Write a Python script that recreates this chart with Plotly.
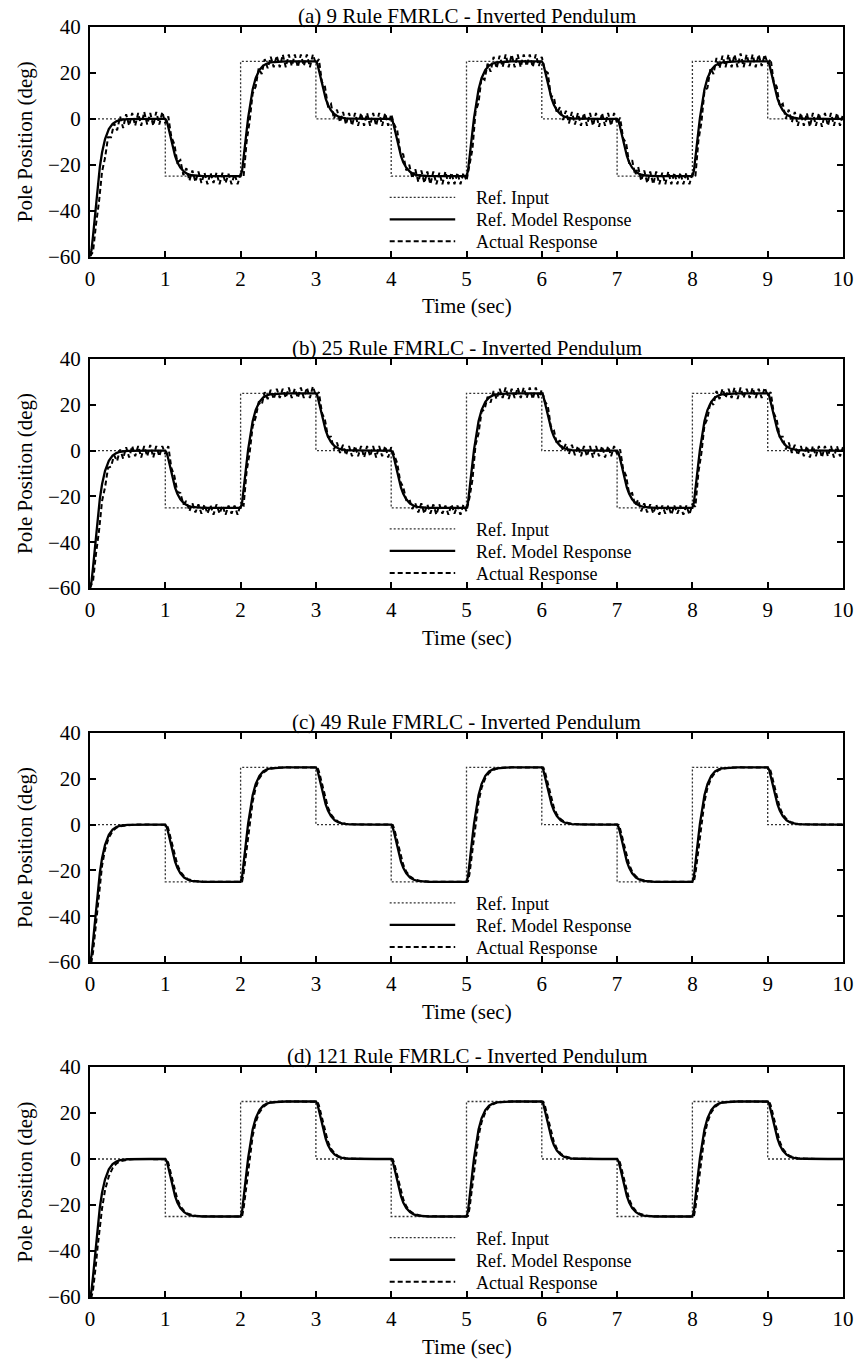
import plotly.graph_objects as go

# ---------------------------------------------------------------- data
PANEL_TITLES = [
    "(a) 9 Rule FMRLC - Inverted Pendulum",
    "(b) 25 Rule FMRLC - Inverted Pendulum",
    "(c) 49 Rule FMRLC - Inverted Pendulum",
    "(d) 121 Rule FMRLC - Inverted Pendulum",
]
X_TICKS = [0, 1, 2, 3, 4, 5, 6, 7, 8, 9, 10]
Y_TICKS = [-60, -40, -20, 0, 20, 40]
LEGEND_NAMES = ["Ref. Input", "Ref. Model Response", "Actual Response"]

# reference input (square wave, held between switching instants)
ref_t = [0, 1, 2, 3, 4, 5, 6, 7, 8, 9, 10]
ref_u = [0, -25, 25, 0, -25, 25, 0, -25, 25, 0, 0]

# sample instants inside each one-second interval for the smooth curves
SEG_OFFSETS = [0, 0.02, 0.04, 0.06, 0.08, 0.10, 0.13, 0.16, 0.20,
               0.25, 0.30, 0.35, 0.40, 0.50, 0.60, 0.80]
model_t = [round(k + o, 2) for k in range(10) for o in SEG_OFFSETS] + [10.0]

# reference model response (same in all four runs)
ref_model = [
    -60, -57.2, -51.1, -43.7, -36.4, -29.6, -21.2, -14.7, -8.8, -4.5, -2.2, -1.1, -0.5, -0.1, 0, 0,
    0, -1.1, -3.7, -6.8, -9.9, -12.7, -16.2, -18.9, -21.3, -23.1, -24.1, -24.6, -24.8, -25, -25, -25,
    -25, -22.7, -17.6, -11.4, -5.3, 0.4, 7.4, 12.8, 17.7, 21.3, 23.2, 24.1, 24.6, 24.9, 25, 25,
    25, 23.9, 21.3, 18.2, 15.2, 12.3, 8.8, 6.1, 3.7, 1.9, 0.9, 0.5, 0.2, 0.1, 0, 0,
    0, -1.1, -3.7, -6.8, -9.9, -12.7, -16.2, -18.9, -21.3, -23.1, -24.1, -24.6, -24.8, -25, -25, -25,
    -25, -22.7, -17.6, -11.4, -5.3, 0.4, 7.4, 12.8, 17.7, 21.3, 23.2, 24.1, 24.6, 24.9, 25, 25,
    25, 23.9, 21.3, 18.2, 15.2, 12.3, 8.8, 6.1, 3.7, 1.9, 0.9, 0.5, 0.2, 0.1, 0, 0,
    0, -1.1, -3.7, -6.8, -9.9, -12.7, -16.2, -18.9, -21.3, -23.1, -24.1, -24.6, -24.8, -25, -25, -25,
    -25, -22.7, -17.6, -11.4, -5.3, 0.4, 7.4, 12.8, 17.7, 21.3, 23.2, 24.1, 24.6, 24.9, 25, 25,
    25, 23.9, 21.3, 18.2, 15.2, 12.3, 8.8, 6.1, 3.7, 1.9, 0.9, 0.5, 0.2, 0.1, 0, 0,
    0,
]

# actual pendulum response, 9 and 25 rule controllers (sampled every 0.04 s)
act_t = [round(i * 0.04, 2) for i in range(251)]

actual_9 = [
    -60, -58, -46, -36, -23, -17, -8, -8, -2, -5, 1, -4, 2, -3, 2.5, -3, 2.5, -3, 3, -2.5, 2.5, -3, 3, -2.5, 3,
    -2, 1, -8, -11, -19, -18, -24.5, -21.5, -27, -22.5, -27.5, -23, -28, -23.5, -28.5, -23.5, -28, -23.5, -28.5, -23.5, -28, -24, -28.5, -24, -28.5,
    -24, -25, -10, -1, 11, 14, 22, 19.5, 26, 22, 27, 22.5, 27.5, 22.5, 28, 22.5, 28, 23, 28, 22.5, 28, 23, 28, 22.5, 28,
    24, 26, 16, 14, 5.5, 6.5, 0, 4, -1.5, 3, -2.5, 2.5, -3, 2.5, -3, 2.5, -3, 2.5, -3, 2.5, -3, 2.5, -3, 2.5, -3,
    2, -2.5, -5, -14.5, -15.5, -22.5, -20, -26, -22, -27.5, -22.5, -28, -23, -28.5, -23, -28.5, -23.5, -28.5, -23, -28.5, -23.5, -28.5, -23.5, -28.5, -23.5,
    -27, -20, -13, 3, 7, 18, 17, 24, 20.5, 27, 22, 27.5, 22.5, 28, 22.5, 28, 22.5, 28, 22.5, 28, 23, 28, 22.5, 28, 23,
    27, 21, 20, 10, 9.5, 2.5, 5, -0.5, 3.5, -2, 3, -2.5, 2.5, -3, 2.5, -3, 2.5, -3, 2.5, -3.5, 2.5, -3, 2.5, -3, 2.5,
    -2, 0.5, -8.5, -10.5, -19.5, -18, -24.5, -21, -27, -22.5, -28, -23, -28.5, -23, -28.5, -23.5, -28.5, -23, -28.5, -23.5, -28.5, -23.5, -28.5, -23.5, -28.5,
    -24, -25, -9.5, -1.5, 12, 13.5, 22, 19.5, 26.5, 22, 27.5, 22.5, 28, 22.5, 28, 22.5, 28.5, 22.5, 28, 23, 28, 22.5, 28, 23, 28,
    24, 26, 16, 14, 5.5, 6.5, 0, 4, -1.5, 3, -3, 2.5, -3, 2.5, -3.5, 2.5, -3, 2.5, -3.5, 2.5, -3, 2.5, -3, 2.5, -3,
    2,
]

actual_25 = [
    -60, -57, -45, -35, -22, -16, -7.5, -7, -2, -4.5, 0.5, -3.5, 1.5, -3, 2, -2.5, 2, -3, 2, -2.5, 2.5, -3, 2, -2.5, 2,
    -1.5, 2, -7.5, -11, -18, -18.5, -23.5, -22, -26.5, -23, -27, -23.5, -27.5, -23.5, -27.5, -24, -28, -23.5, -27.5, -24, -28, -24, -27.5, -24, -28,
    -23.5, -24, -9, -1, 10.5, 14.5, 21, 20, 25.5, 22.5, 26.5, 22.5, 27, 23, 27, 23, 27.5, 23, 27, 23, 27.5, 23, 27.5, 23, 28,
    24, 25.5, 16.5, 13.5, 6, 6, 0.5, 3.5, -1, 2.5, -2, 2, -2.5, 2, -2.5, 2, -3, 2, -2.5, 2, -3, 2, -2.5, 2, -3,
    1.5, -2, -5.5, -13.5, -16, -21.5, -21, -25.5, -23, -27, -23, -27.5, -23.5, -27.5, -23.5, -28, -23.5, -27.5, -24, -28, -23.5, -27.5, -24, -28, -23.5,
    -26.5, -20.5, -12.5, 2.5, 7.5, 17, 18, 23.5, 21, 26, 22.5, 27, 23, 27.5, 22.5, 27, 23, 27.5, 23, 27.5, 23, 27.5, 22.5, 27.5, 23,
    26.5, 21.5, 19.5, 10.5, 9, 3, 4.5, 0, 3, -1.5, 2.5, -2, 2, -2.5, 2, -2.5, 2, -3, 2, -2.5, 2, -3, 2, -2.5, 2,
    -1.5, 0.5, -8, -11, -19, -18.5, -24, -21.5, -26.5, -23, -27, -23.5, -27.5, -23.5, -28, -24, -27.5, -24, -28, -24, -27.5, -24, -28, -24, -28,
    -23.5, -24.5, -9.5, -1, 11, 14, 21.5, 20, 26, 22.5, 27, 23, 27, 23, 27.5, 22.5, 27.5, 23, 27, 23, 27.5, 23, 27, 23, 27.5,
    24, 25.5, 16.5, 13.5, 6, 6, 0.5, 3.5, -1, 2.5, -2, 2, -2.5, 2, -3, 2, -2.5, 2, -3, 2, -2.5, 2, -3, 2, -2.5,
    1.5,
]

# actual pendulum response, 49 and 121 rule controllers (on model_t instants)
actual_49 = [
    -60, -59.8, -55.8, -49.2, -42, -34.8, -25.2, -18, -10.8, -5.7, -2.9, -1.4, -0.7, -0.2, 0, 0,
    0, -0.1, -1.8, -4.5, -7.5, -10.5, -14.5, -17.5, -20.5, -22.6, -23.8, -24.4, -24.7, -24.9, -25, -25,
    -25, -24.8, -21.5, -16, -10, -4, 4, 10, 16, 20.3, 22.6, 23.8, 24.4, 24.9, 25, 25,
    25, 24.9, 23.3, 20.5, 17.5, 14.5, 10.5, 7.5, 4.5, 2.4, 1.2, 0.6, 0.3, 0.1, 0, 0,
    0, -0.1, -1.8, -4.5, -7.5, -10.5, -14.5, -17.5, -20.5, -22.6, -23.8, -24.4, -24.7, -24.9, -25, -25,
    -25, -24.8, -21.5, -16, -10, -4, 4, 10, 16, 20.3, 22.6, 23.8, 24.4, 24.9, 25, 25,
    25, 24.9, 23.3, 20.5, 17.5, 14.5, 10.5, 7.5, 4.5, 2.4, 1.2, 0.6, 0.3, 0.1, 0, 0,
    0, -0.1, -1.8, -4.5, -7.5, -10.5, -14.5, -17.5, -20.5, -22.6, -23.8, -24.4, -24.7, -24.9, -25, -25,
    -25, -24.8, -21.5, -16, -10, -4, 4, 10, 16, 20.3, 22.6, 23.8, 24.4, 24.9, 25, 25,
    25, 24.9, 23.3, 20.5, 17.5, 14.5, 10.5, 7.5, 4.5, 2.4, 1.2, 0.6, 0.3, 0.1, 0, 0,
    0,
]

actual_121 = [
    -60, -59.9, -57, -52, -45.5, -38.5, -29, -21.5, -13.5, -7.5, -4, -2, -1, -0.3, 0, 0,
    0, -0.1, -1.8, -4.5, -7.5, -10.5, -14.5, -17.5, -20.5, -22.6, -23.8, -24.4, -24.7, -24.9, -25, -25,
    -25, -24.8, -21.5, -16, -10, -4, 4, 10, 16, 20.3, 22.6, 23.8, 24.4, 24.9, 25, 25,
    25, 24.9, 23.3, 20.5, 17.5, 14.5, 10.5, 7.5, 4.5, 2.4, 1.2, 0.6, 0.3, 0.1, 0, 0,
    0, -0.1, -1.8, -4.5, -7.5, -10.5, -14.5, -17.5, -20.5, -22.6, -23.8, -24.4, -24.7, -24.9, -25, -25,
    -25, -24.8, -21.5, -16, -10, -4, 4, 10, 16, 20.3, 22.6, 23.8, 24.4, 24.9, 25, 25,
    25, 24.9, 23.3, 20.5, 17.5, 14.5, 10.5, 7.5, 4.5, 2.4, 1.2, 0.6, 0.3, 0.1, 0, 0,
    0, -0.1, -1.8, -4.5, -7.5, -10.5, -14.5, -17.5, -20.5, -22.6, -23.8, -24.4, -24.7, -24.9, -25, -25,
    -25, -24.8, -21.5, -16, -10, -4, 4, 10, 16, 20.3, 22.6, 23.8, 24.4, 24.9, 25, 25,
    25, 24.9, 23.3, 20.5, 17.5, 14.5, 10.5, 7.5, 4.5, 2.4, 1.2, 0.6, 0.3, 0.1, 0, 0,
    0,
]

ACTUAL = [(act_t, actual_9), (act_t, actual_25), (model_t, actual_49), (model_t, actual_121)]

# ---------------------------------------------------------------- styling
W, H = 857, 1359
FONT = "Liberation Serif, Times New Roman, serif"
FS = 21
FS_LEG = 18
X_DOMAIN = [90 / W, 843 / W]
# (top, bottom) pixel rows of each plotting box
BOXES = [(27, 256.5), (359, 588), (733, 962), (1067, 1297)]
LINE_IN = dict(color="#333333", width=1.3, dash="2px,2px")
LINE_MODEL = dict(color="black", width=2.3)
LINE_ACT = dict(color="black", width=2, dash="5px,3px")
LEGEND_ROWS = [0.258, 0.162, 0.066]

fig = go.Figure()
for i in range(4):
    n = "" if i == 0 else str(i + 1)
    xa, ya = "x" + n, "y" + n
    top, bot = BOXES[i]
    fig.add_trace(go.Scatter(x=ref_t, y=ref_u, mode="lines", line=LINE_IN,
                             line_shape="hv", xaxis=xa, yaxis=ya, showlegend=False))
    fig.add_trace(go.Scatter(x=model_t, y=ref_model, mode="lines", line=LINE_MODEL,
                             xaxis=xa, yaxis=ya, showlegend=False))
    tx, ty = ACTUAL[i]
    fig.add_trace(go.Scatter(x=tx, y=ty, mode="lines", line=LINE_ACT,
                             xaxis=xa, yaxis=ya, showlegend=False))

    axis_common = dict(showline=True, linecolor="black", linewidth=2, mirror="ticks",
                       ticks="inside", ticklen=6, tickwidth=1.5, tickcolor="black",
                       showgrid=False, zeroline=False,
                       tickfont=dict(family=FONT, size=FS, color="black"))
    fig.update_layout(**{
        ("xaxis" + n): dict(domain=X_DOMAIN, range=[0, 10], tickvals=X_TICKS,
                            anchor=ya, ticklabelstandoff=2, **axis_common),
        ("yaxis" + n): dict(domain=[1 - bot / H, 1 - top / H], range=[-60, 40],
                            tickvals=Y_TICKS, anchor=xa, ticklabelstandoff=3,
                            title=dict(text="Pole Position (deg)", standoff=10,
                                       font=dict(family=FONT, size=FS, color="black")),
                            **axis_common),
    })

    dref_x, dref_y = xa + " domain", ya + " domain"
    fig.add_annotation(text=PANEL_TITLES[i], xref=dref_x, yref=dref_y, x=0.5, y=1,
                       yanchor="middle", yshift=11, showarrow=False,
                       font=dict(family=FONT, size=FS, color="black"))
    fig.add_annotation(text="Time (sec)", xref=dref_x, yref=dref_y, x=0.5, y=0,
                       yanchor="middle", yshift=-50, showarrow=False,
                       font=dict(family=FONT, size=FS, color="black"))

    # legend block inside the lower middle of each box
    for name, style, ry in zip(LEGEND_NAMES, [LINE_IN, LINE_MODEL, LINE_ACT], LEGEND_ROWS):
        fig.add_shape(type="line", xref=dref_x, yref=dref_y, x0=0.398, x1=0.485,
                      y0=ry, y1=ry, line=style)
        fig.add_annotation(text=name, xref=dref_x, yref=dref_y, x=0.511, y=ry,
                           xanchor="left", yanchor="middle", yshift=-1, showarrow=False,
                           borderpad=0, font=dict(family=FONT, size=FS_LEG, color="black"))

fig.update_layout(width=W, height=H, margin=dict(l=0, r=0, t=0, b=0),
                  paper_bgcolor="white", plot_bgcolor="white", template="none",
                  showlegend=False)
fig.write_html("out.html")
